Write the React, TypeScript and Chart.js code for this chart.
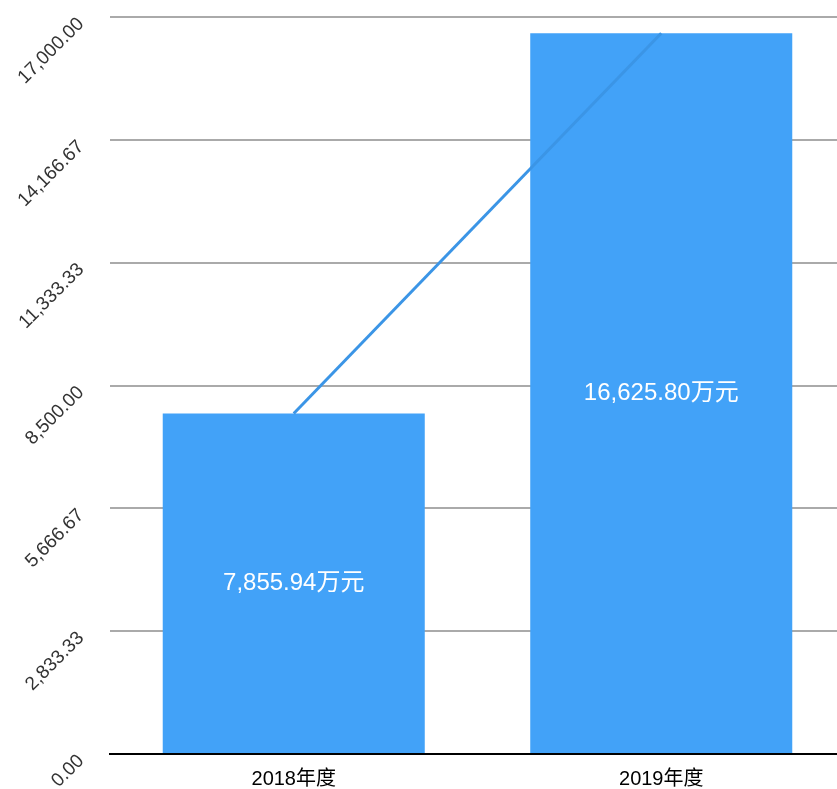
import React, { useEffect, useRef } from "react";
import { Chart, registerables } from "chart.js";

Chart.register(...registerables);

const categories: string[] = ["2018年度", "2019年度"];
const revenue: number[] = [7855.94, 16625.8];
const valueLabels: string[] = ["7,855.94万元", "16,625.80万元"];
const yMin = 0;
const yMax = 17000;
const yStep = 17000 / 6;

const fmt = (v: number) =>
  v.toLocaleString("en-US", { minimumFractionDigits: 2, maximumFractionDigits: 2 });

const barLabelPlugin = {
  id: "barLabels",
  afterDatasetsDraw(chart: any) {
    const meta = chart.getDatasetMeta(0);
    const ctx = chart.ctx;
    ctx.save();
    ctx.fillStyle = "#ffffff";
    ctx.font = '24px "Liberation Sans", Arial, "Noto Sans CJK SC", sans-serif';
    ctx.textAlign = "center";
    ctx.textBaseline = "middle";
    meta.data.forEach((el: any, i: number) => {
      const y = (el.y + el.base) / 2;
      ctx.fillText(valueLabels[i], el.x, y);
    });
    ctx.restore();
  },
};

export default function App() {
  const ref = useRef<HTMLCanvasElement | null>(null);
  useEffect(() => {
    if (!ref.current) return;
    const chart = new Chart(ref.current, {
      type: "bar",
      data: {
        labels: categories,
        datasets: [
          {
            type: "bar",
            data: revenue,
            backgroundColor: "#42a2f8",
            barPercentage: 0.713,
            categoryPercentage: 1,
            order: 2,
          },
          {
            type: "line",
            data: revenue,
            borderColor: "#3b95e6",
            borderWidth: 3,
            pointRadius: 0,
            tension: 0,
            order: 1,
          } as any,
        ],
      },
      options: {
        animation: false,
        responsive: true,
        maintainAspectRatio: false,
        layout: { padding: { top: 17, right: 0, bottom: 0, left: 0 } },
        plugins: { legend: { display: false }, tooltip: { enabled: false } },
        scales: {
          x: {
            grid: { display: false, drawTicks: false },
            border: { display: true, color: "#000000", width: 2 },
            ticks: {
              color: "#000000",
              padding: 13,
              font: { family: '"Liberation Sans", Arial, "Noto Sans CJK SC", sans-serif', size: 20 },
            },
            afterFit: (s: any) => {
              s.height = 35;
            },
          },
          y: {
            min: yMin,
            max: yMax,
            grid: { color: "#aaaaaa", lineWidth: 2, drawTicks: false },
            border: { display: false },
            ticks: {
              stepSize: yStep,
              minRotation: 45,
              maxRotation: 45,
              padding: 29,
              labelOffset: 4,
              color: "#333333",
              font: { family: '"Liberation Sans", Arial, sans-serif', size: 19 },
              callback: (v: any) => fmt(Number(v)),
            },
            afterFit: (s: any) => {
              s.width = 110;
              s.paddingTop = 0;
              s.paddingBottom = 0;
            },
          },
        },
      },
      plugins: [barLabelPlugin],
    });
    return () => chart.destroy();
  }, []);
  return (
    <div style={{ position: "absolute", left: 0, top: 0, width: 837, height: 789, overflow: "hidden", background: "#fff" }}>
      <div style={{ position: "relative", width: 845, height: 789 }}>
        <canvas ref={ref} />
      </div>
    </div>
  );
}
